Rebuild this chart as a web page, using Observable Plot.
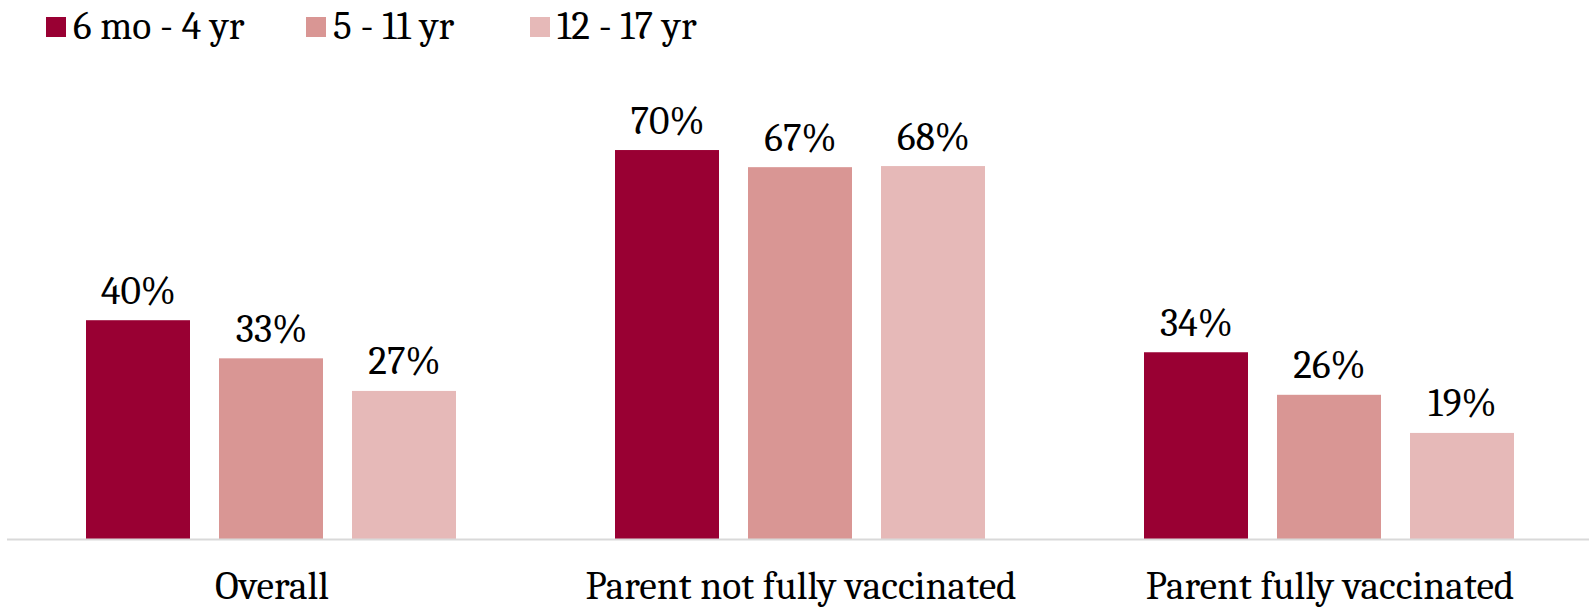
<!DOCTYPE html>
<html>
<head>
<meta charset="utf-8">
<script src="https://cdn.jsdelivr.net/npm/d3@7"></script>
<script src="https://cdn.jsdelivr.net/npm/@observablehq/plot@0.6"></script>
<style>
  html, body { margin: 0; padding: 0; background: #fff; overflow: hidden; }
  body { width: 1589px; height: 607px; font-family: Cambria, "Liberation Serif", serif; }
  #legend { position: relative; height: 56px; }
  .item { position: absolute; top: 0; height: 54px; display: flex; align-items: center; font-size: 39.5px; line-height: 1; color: #000; white-space: nowrap; }
  .sw { width: 20px; height: 20px; margin-right: 7px; }
  #chart svg { display: block; max-width: none !important; }
</style>
</head>
<body>
<div id="legend"></div>
<div id="chart"></div>
<script>
const categories = ["Overall", "Parent not fully vaccinated", "Parent fully vaccinated"];
const ageGroups = ["6 mo - 4 yr", "5 - 11 yr", "12 - 17 yr"];
const valuesYoung = [39.6, 70.4, 33.8];
const valuesMid = [32.7, 67.3, 26.1];
const valuesTeen = [26.8, 67.5, 19.2];
const colors = ["#990033", "#D99694", "#E6B9B8"];
const legendLeft = [46, 306, 530];

const series = [valuesYoung, valuesMid, valuesTeen];
const data = [];
categories.forEach((c, i) => {
  ageGroups.forEach((g, j) => {
    data.push({category: c, group: g, value: series[j][i]});
  });
});

const legend = document.getElementById("legend");
ageGroups.forEach((g, j) => {
  const it = document.createElement("div");
  it.className = "item";
  it.style.left = legendLeft[j] + "px";
  const sw = document.createElement("span");
  sw.className = "sw";
  sw.style.background = colors[j];
  const t = document.createElement("span");
  t.textContent = g;
  it.appendChild(sw);
  it.appendChild(t);
  legend.appendChild(it);
});

const chart = Plot.plot({
  width: 1594,
  height: 551,
  marginLeft: 7,
  marginRight: 0,
  marginTop: 41,
  marginBottom: 68,
  style: {fontFamily: 'Cambria, "Liberation Serif", serif', fontSize: "39.5px", color: "#000", background: "#fff"},
  fx: {domain: categories, padding: 0, label: null},
  x: {domain: ageGroups, paddingInner: 0.216, paddingOuter: 0.592, axis: null},
  y: {domain: [0, 80], axis: null},
  color: {domain: ageGroups, range: colors},
  marks: [
    Plot.barY(data, {fx: "category", x: "group", y: "value", fill: "group"}),
    Plot.text(data, {fx: "category", x: "group", y: "value", text: d => Math.round(d.value) + "%", lineAnchor: "bottom", dy: -17, fill: "#000", fontSize: 39.5}),
    Plot.ruleY([0], {stroke: "#d9d9d9", strokeWidth: 2}),
    Plot.axisFx({anchor: "bottom", tickSize: 0, tickPadding: 31, fontSize: 39.5, label: null})
  ]
});
document.getElementById("chart").appendChild(chart);
</script>
</body>
</html>
